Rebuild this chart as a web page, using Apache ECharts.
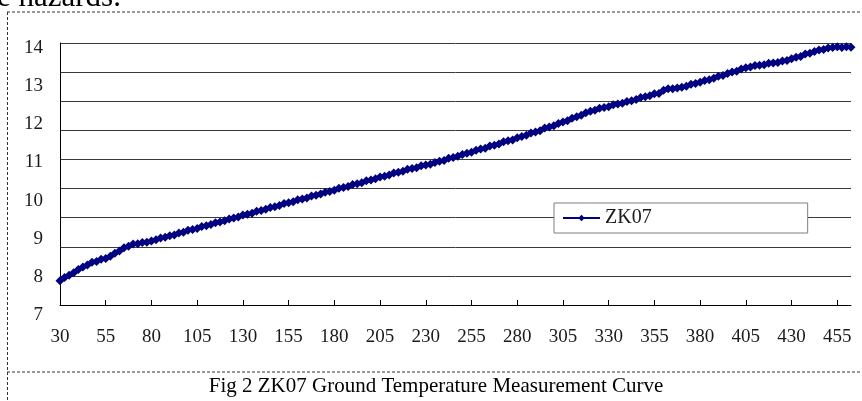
<!DOCTYPE html>
<html>
<head>
<meta charset="utf-8">
<script src="https://cdn.jsdelivr.net/npm/echarts@6/dist/echarts.min.js"></script>
<style>
html,body{margin:0;padding:0;background:#fff;}
#chart{width:862px;height:401px;}
</style>
</head>
<body>
<div id="chart"></div>
<script>
const depths = [30,32.5,35,37.5,40,42.5,45,47.5,50,52.5,55,57.5,60,62.5,65,67.5,70,72.5,75,77.5,
80,82.5,85,87.5,90,92.5,95,97.5,100,102.5,105,107.5,110,112.5,115,117.5,120,122.5,125,127.5,
130,132.5,135,137.5,140,142.5,145,147.5,150,152.5,155,157.5,160,162.5,165,167.5,170,172.5,175,177.5,
180,182.5,185,187.5,190,192.5,195,197.5,200,202.5,205,207.5,210,212.5,215,217.5,220,222.5,225,227.5,
230,232.5,235,237.5,240,242.5,245,247.5,250,252.5,255,257.5,260,262.5,265,267.5,270,272.5,275,277.5,
280,282.5,285,287.5,290,292.5,295,297.5,300,302.5,305,307.5,310,312.5,315,317.5,320,322.5,325,327.5,
330,332.5,335,337.5,340,342.5,345,347.5,350,352.5,355,357.5,360,362.5,365,367.5,370,372.5,375,377.5,
380,382.5,385,387.5,390,392.5,395,397.5,400,402.5,405,407.5,410,412.5,415,417.5,420,422.5,425,427.5,
430,432.5,435,437.5,440,442.5,445,447.5,450,452.5,455,457.5,460,462.5];

const zk07 = [7.90,7.98,8.04,8.11,8.19,8.26,8.31,8.38,8.40,8.46,
8.48,8.54,8.62,8.68,8.76,8.80,8.86,8.87,8.90,8.91,
8.94,8.97,9.02,9.04,9.08,9.10,9.15,9.17,9.22,9.24,
9.27,9.32,9.34,9.37,9.42,9.44,9.47,9.52,9.54,9.57,
9.62,9.64,9.67,9.72,9.74,9.77,9.82,9.84,9.87,9.92,
9.94,9.97,10.02,10.04,10.07,10.12,10.14,10.17,10.22,10.24,
10.27,10.32,10.34,10.37,10.42,10.44,10.47,10.52,10.54,10.57,
10.62,10.64,10.67,10.72,10.74,10.77,10.82,10.84,10.86,10.91,
10.93,10.95,11.00,11.03,11.05,11.11,11.13,11.16,11.21,11.24,
11.27,11.32,11.35,11.37,11.43,11.45,11.48,11.54,11.57,11.59,
11.65,11.68,11.71,11.77,11.80,11.83,11.90,11.93,11.96,12.02,
12.06,12.09,12.16,12.20,12.24,12.30,12.34,12.37,12.42,12.44,
12.46,12.51,12.53,12.55,12.60,12.62,12.65,12.70,12.72,12.75,
12.80,12.81,12.89,12.93,12.93,12.95,12.97,13.00,13.05,13.07,
13.10,13.15,13.17,13.21,13.26,13.28,13.33,13.37,13.39,13.45,
13.48,13.50,13.54,13.55,13.56,13.60,13.61,13.62,13.66,13.67,
13.72,13.76,13.78,13.84,13.86,13.91,13.95,13.96,14.00,14.01,
14.03,14.01,14.03,14.02];

const yTicks = [7,8,9,10,11,12,13,14];
const seriesName = 'ZK07';
const captionText = 'Fig 2 ZK07 Ground Temperature Measurement Curve';
const topText = 'e hazards.';

const FONT = '"Liberation Serif","Times New Roman",serif';
const showEvery = (i) => i % 10 === 0;

const chart = echarts.init(document.getElementById('chart'), null, {renderer:'canvas'});
chart.setOption({
  animation: false,
  backgroundColor: '#fff',
  grid: [
    {left: 60, right: 11, top: 43, bottom: 96},
    {left: 60, right: 11, top: 48, bottom: 86}
  ],
  xAxis: [
    {
      type: 'category', gridIndex: 0, data: depths, boundaryGap: false,
      axisLine: {show: true, lineStyle: {color: '#000', width: 1}},
      axisTick: {show: true, inside: true, length: 5, interval: (i) => showEvery(i), lineStyle: {color: '#000'}},
      axisLabel: {interval: (i) => showEvery(i), margin: 23, fontFamily: FONT, fontSize: 19, color: '#1a1a1a'},
      splitLine: {show: false}
    },
    {type: 'category', gridIndex: 1, data: depths, boundaryGap: false, show: false}
  ],
  yAxis: [
    {
      type: 'value', gridIndex: 0, min: 0, max: 9, interval: 1,
      axisLine: {show: true, lineStyle: {color: '#000', width: 1}},
      axisTick: {show: false}, axisLabel: {show: false},
      splitLine: {show: true, lineStyle: {color: '#3a3a3a', width: 1}}
    },
    {
      type: 'value', gridIndex: 1, min: yTicks[0], max: yTicks[yTicks.length-1], interval: 1,
      axisLine: {show: false}, axisTick: {show: false}, splitLine: {show: false},
      axisLabel: {margin: 17, fontFamily: FONT, fontSize: 19, color: '#1a1a1a'}
    }
  ],
  legend: {
    data: [seriesName], left: 554, top: 203,
    itemWidth: 37, itemHeight: 8, itemGap: 5,
    padding: [5, 156, 5, 8],
    borderColor: '#7f7f7f', borderWidth: 1, backgroundColor: '#fff',
    textStyle: {fontFamily: FONT, fontSize: 20, color: '#1a1a1a'}
  },
  series: [{
    name: seriesName, type: 'line', xAxisIndex: 1, yAxisIndex: 1,
    data: zk07, clip: false,
    symbol: 'diamond', symbolSize: 9, showAllSymbol: true,
    lineStyle: {color: '#000080', width: 3},
    itemStyle: {color: '#000080'}
  }],
  graphic: [
    {type: 'line', shape: {x1: 7, y1: 12, x2: 862, y2: 12}, style: {stroke: '#333', lineWidth: 1, lineDash: [3, 2]}},
    {type: 'line', shape: {x1: 7.5, y1: 12, x2: 7.5, y2: 401}, style: {stroke: '#333', lineWidth: 1, lineDash: [3, 2]}},
    {type: 'line', shape: {x1: 7, y1: 372, x2: 862, y2: 372}, style: {stroke: '#333', lineWidth: 1, lineDash: [3, 2]}},
    {type: 'text', x: -3, y: -2, style: {text: topText, font: '31px ' + FONT, fill: '#000', align: 'left', verticalAlign: 'middle'}},
    {type: 'text', x: 436, y: 386, style: {text: captionText, font: '21px ' + FONT, fill: '#000', align: 'center', verticalAlign: 'middle'}}
  ]
});
</script>
</body>
</html>
